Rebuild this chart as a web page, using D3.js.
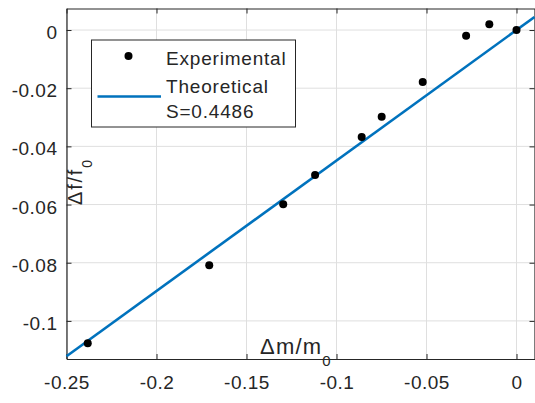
<!DOCTYPE html>
<html lang="en">
<head>
<meta charset="utf-8">
<script src="https://d3js.org/d3.v7.min.js"></script>
<style>
	body {margin:0;background:#fff;}
	text {font-family:"Liberation Sans", Arial, sans-serif;fill:#262626;}
</style>
</head>
<body>
<script>
	// experimental points
	var massShift = [-0.2382, -0.1707, -0.1296, -0.1119, -0.086, -0.0749, -0.0521, -0.028, -0.0151, 0];
	var freqShift = [-0.1077, -0.0809, -0.0599, -0.0498, -0.0368, -0.0298, -0.0179, -0.002, 0.002, 0];
	// theoretical slope
	var slope = 0.4486;
	var xTicks = [-0.25, -0.2, -0.15, -0.1, -0.05, 0];
	var yTicks = [0, -0.02, -0.04, -0.06, -0.08, -0.1];
	var xLimits = [-0.25, 0.01];
	var yLimits = [-0.1131, 0.0074];

	var width = 535, height = 403;
	var margin = {top: 8.5, right: 0.5, bottom: 44, left: 66.5};

	var svg = d3.select("body").append("svg")
		.attr("width", width)
		.attr("height", height);

	var x = d3.scaleLinear().domain(xLimits).range([margin.left, width - margin.right]);
	var y = d3.scaleLinear().domain(yLimits).range([height - margin.bottom, margin.top]);

	// grid
	svg.append("g").selectAll("line").data(xTicks).enter().append("line")
		.attr("x1", function(d){return x(d);}).attr("x2", function(d){return x(d);})
		.attr("y1", y.range()[0]).attr("y2", y.range()[1])
		.attr("stroke", "#dfdfdf").attr("stroke-width", 1);
	svg.append("g").selectAll("line").data(yTicks).enter().append("line")
		.attr("y1", function(d){return y(d);}).attr("y2", function(d){return y(d);})
		.attr("x1", x.range()[0]).attr("x2", x.range()[1])
		.attr("stroke", "#dfdfdf").attr("stroke-width", 1);

	var fmt = function(d){ return d === 0 ? "0" : String(d); };

	// axes, ticks pointing inward like matlab
	var gx = svg.append("g").attr("transform", "translate(0," + y.range()[0] + ")")
		.call(d3.axisBottom(x).tickValues(xTicks).tickFormat(fmt).tickSizeInner(-5).tickSizeOuter(0).tickPadding(16.5));
	var gxTop = svg.append("g").attr("transform", "translate(0," + y.range()[1] + ")")
		.call(d3.axisTop(x).tickValues(xTicks).tickFormat("").tickSizeInner(-5).tickSizeOuter(0));
	var gy = svg.append("g").attr("transform", "translate(" + x.range()[0] + ",0)")
		.call(d3.axisLeft(y).tickValues(yTicks).tickFormat(fmt).tickSizeInner(-5).tickSizeOuter(0).tickPadding(9));
	var gyR = svg.append("g").attr("transform", "translate(" + x.range()[1] + ",0)")
		.call(d3.axisRight(y).tickValues(yTicks).tickFormat("").tickSizeInner(-5).tickSizeOuter(0));

	[gx, gxTop, gy, gyR].forEach(function(g){
		g.select(".domain").attr("stroke", "#262626").attr("stroke-width", 1.2);
		g.selectAll(".tick line").attr("stroke", "#262626");
		g.selectAll("text").attr("font-size", 19).attr("letter-spacing", 0.5)
			.attr("font-family", "Liberation Sans, Arial, sans-serif").attr("fill", "#262626");
	});
	gy.selectAll("text").attr("dy", "0.45em");

	// theoretical line
	svg.append("line")
		.attr("x1", x(xLimits[0])).attr("y1", y(slope * xLimits[0]))
		.attr("x2", x(xLimits[1])).attr("y2", y(slope * xLimits[1]))
		.attr("stroke", "#0072BD").attr("stroke-width", 2.6);

	// points
	svg.append("g").selectAll("circle").data(massShift).enter().append("circle")
		.attr("cx", function(d){return x(d);})
		.attr("cy", function(d, i){return y(freqShift[i]);})
		.attr("r", 4)
		.attr("fill", "#000");

	// axis labels
	var xl = svg.append("text").attr("x", 260).attr("y", 354).attr("font-size", 22).attr("letter-spacing", 1.2);
	xl.append("tspan").text("\u0394m/m");
	xl.append("tspan").attr("dx", 0).attr("dy", 12).attr("font-size", 15).attr("letter-spacing", 0).text("0");

	var yl = svg.append("text").attr("transform", "translate(82,205) rotate(-90)").attr("font-size", 20).attr("letter-spacing", 1.8);
	yl.append("tspan").text("\u0394f/f");
	yl.append("tspan").attr("dx", 0).attr("dy", 10).attr("font-size", 14).attr("letter-spacing", 0).text("0");

	// legend
	var lg = svg.append("g");
	lg.append("rect").attr("x", 91.5).attr("y", 40).attr("width", 204).attr("height", 87)
		.attr("fill", "#fff").attr("stroke", "#262626").attr("stroke-width", 1);
	lg.append("circle").attr("cx", 128.5).attr("cy", 56).attr("r", 4).attr("fill", "#000");
	lg.append("line").attr("x1", 97.5).attr("x2", 161).attr("y1", 96.5).attr("y2", 96.5)
		.attr("stroke", "#0072BD").attr("stroke-width", 2.6);
	var labels = ["Experimental", "Theoretical", "S=0.4486"];
	var baselines = [65, 93, 118];
	lg.selectAll("text.lab").data(labels).enter().append("text")
		.attr("class", "lab")
		.attr("x", 166).attr("y", function(d, i){return baselines[i];})
		.attr("font-size", 19).attr("letter-spacing", 0.8).attr("fill", "#000")
		.text(function(d){return d;});
</script>
</body>
</html>
